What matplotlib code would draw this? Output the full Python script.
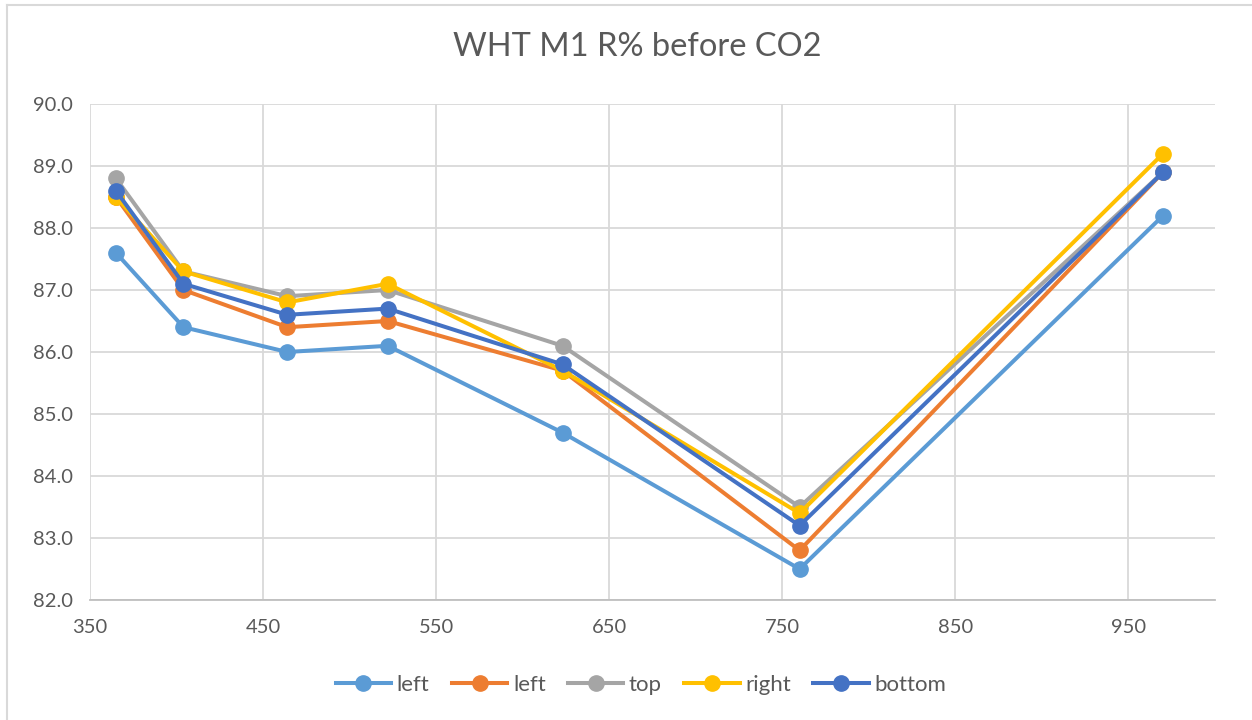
import matplotlib

matplotlib.use("Agg")
import matplotlib.pyplot as plt
from matplotlib.lines import Line2D

plt.rcParams["font.family"] = ["Lato", "DejaVu Sans"]

# wavelength (nm) of the measured points
wavelengths = [365, 404, 464, 522, 623, 760, 970]

series_labels = ["left", "left", "top", "right", "bottom"]
series_colors = ["#5B9BD5", "#ED7D31", "#A5A5A5", "#FFC000", "#4472C4"]

left_a = [87.6, 86.4, 86.0, 86.1, 84.7, 82.5, 88.2]
left_b = [88.5, 87.0, 86.4, 86.5, 85.7, 82.8, 88.9]
top = [88.8, 87.3, 86.9, 87.0, 86.1, 83.5, 88.9]
right = [88.5, 87.3, 86.8, 87.1, 85.7, 83.4, 89.2]
bottom = [88.6, 87.1, 86.6, 86.7, 85.8, 83.2, 88.9]

x_ticks = [350, 450, 550, 650, 750, 850, 950]
y_ticks = [82, 83, 84, 85, 86, 87, 88, 89, 90]

TEXT_COLOR = "#595959"
GRID_COLOR = "#D9D9D9"

fig = plt.figure(figsize=(12.52, 7.2), dpi=100)
ax = fig.add_axes([90 / 1252, 1 - 600 / 720, (1215 - 90) / 1252, (600 - 104) / 720])

all_series = [left_a, left_b, top, right, bottom]
for values, label, color in zip(all_series, series_labels, series_colors):
    ax.plot(
        wavelengths,
        values,
        color=color,
        linewidth=2.9,
        marker="o",
        markersize=11,
        label=label,
        solid_capstyle="round",
        zorder=3,
    )

ax.set_xlim(350, 1000)
ax.set_ylim(82, 90)
ax.set_xticks(x_ticks)
ax.set_yticks(y_ticks)
ax.set_yticklabels([f"{v:.1f}" for v in y_ticks])
ax.tick_params(axis="both", length=0, labelsize=14.5, labelcolor=TEXT_COLOR)
ax.tick_params(axis="x", pad=14)
ax.tick_params(axis="y", pad=12)

for xv in x_ticks:
    ax.axvline(xv, color=GRID_COLOR, linewidth=1.3, zorder=1)
for yv in y_ticks:
    ax.axhline(yv, color=GRID_COLOR, linewidth=1.3, zorder=1)

for side in ["top", "right", "left"]:
    ax.spines[side].set_visible(False)
ax.spines["bottom"].set_color("#BFBFBF")
ax.spines["bottom"].set_linewidth(1.3)

fig.text(637 / 1252, 1 - 47 / 720, "WHT M1 R% before CO2", ha="center", va="center",
         fontsize=23.5, color=TEXT_COLOR)

handles = [
    Line2D([0], [0], color=c, linewidth=2.9, marker="o", markersize=11)
    for c in series_colors
]
fig.legend(
    handles,
    series_labels,
    loc="center",
    bbox_to_anchor=(641 / 1252, 1 - 685 / 720),
    ncol=5,
    frameon=False,
    fontsize=16,
    labelcolor=TEXT_COLOR,
    handlelength=2.5,
    columnspacing=1.0,
    handletextpad=0.25,
)

# outer chart border (only left/top edges fall inside the picture)
fig.add_artist(Line2D([7 / 1252, 7 / 1252], [0, 1 - 5 / 720], color=GRID_COLOR,
                      linewidth=1.5, transform=fig.transFigure))
fig.add_artist(Line2D([7 / 1252, 1], [1 - 5 / 720, 1 - 5 / 720], color=GRID_COLOR,
                      linewidth=1.5, transform=fig.transFigure))

fig.savefig("out.png", dpi=100)
